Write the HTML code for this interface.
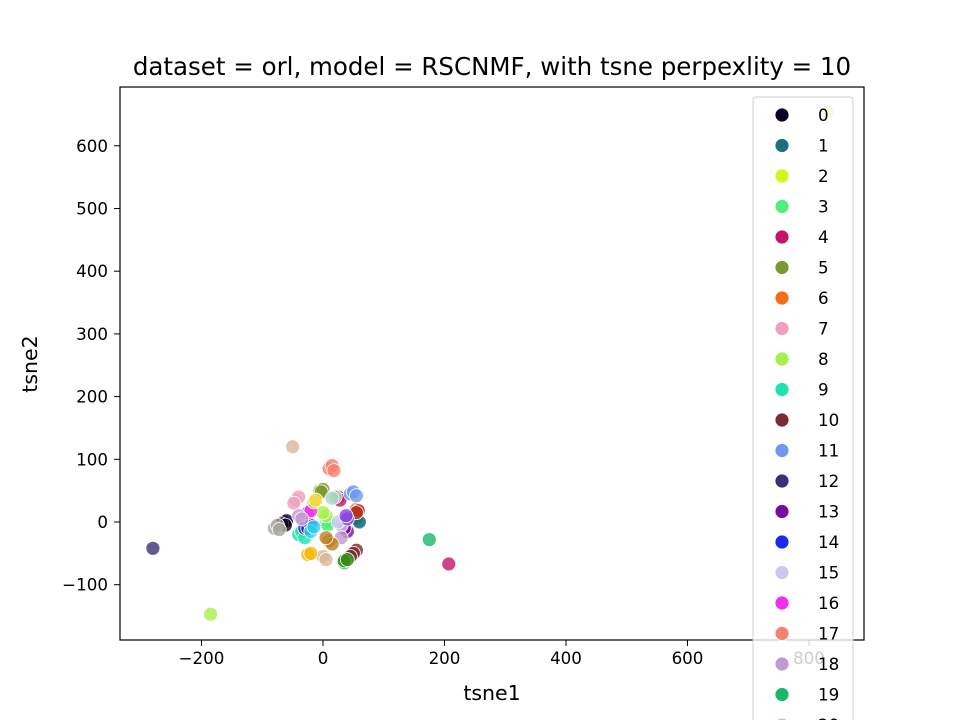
<!DOCTYPE html>
<html><head><meta charset="utf-8"><style>
html,body{margin:0;padding:0;background:#fff;width:960px;height:720px;overflow:hidden;}
svg{display:block;font-family:"DejaVu Sans","Liberation Sans",sans-serif;}
</style></head><body>
<svg id="c" width="960" height="720" viewBox="0 0 960 720" xmlns="http://www.w3.org/2000/svg">
<rect width="960" height="720" fill="#fff"/>
<text x="492" y="75" font-size="24.5" text-anchor="middle">dataset = orl, model = RSCNMF, with tsne perpexlity = 10</text>
<g id="pts"></g>
<rect x="120" y="87" width="744" height="553" fill="none" stroke="#000" stroke-width="1.2"/>
<g id="axes"></g>
<text x="492" y="700" font-size="20.5" text-anchor="middle">tsne1</text>
<text transform="translate(37,364) rotate(-90)" font-size="20.5" text-anchor="middle">tsne2</text>
<g id="legend"></g>
</svg>
<script>
const xTicks=[-200,0,200,400,600,800];
const yTicks=[-100,0,100,200,300,400,500,600];
const classColors=["#0b0021","#1b7080","#d6f516","#4ff07a","#c5146a","#7a9a30","#f86c13","#eea0c0","#a6f04b","#1ce4b0","#7a2a30","#6e9aee","#3a2f78","#7a0aa0","#1a28f0","#ccc8f0","#f02ef0","#f88070","#c09ad0","#18b868","#a8d8c0","#dbb896","#a8a8a0","#f0d840","#30d0f0","#f8b800","#c08020","#3a8a10","#b03020","#8a40e0"];
const legendLabels=["0","1","2","3","4","5","6","7","8","9","10","11","12","13","14","15","16","17","18","19","20"];
const classPoints=[
[[-65,0],[-60,2],[-68,-3],[-62,-5]],
[[58,2],[55,5],[60,0]],
[[830,654],[-15,28]],
[[5,-3],[10,0],[8,-5]],
[[207,-67],[25,40],[28,35]],
[[-5,50],[0,52],[-3,48]],
[[55,20],[58,18]],
[[-45,35],[-40,40],[-48,30]],
[[-185,-147],[5,10],[0,15]],
[[-40,-20],[-35,-15],[-30,-25]],
[[55,-45],[50,-50],[45,-55]],
[[45,45],[50,48],[55,42]],
[[-280,-42],[-30,-10]],
[[40,-15],[35,-10]],
[[-25,-10],[-20,-5]],
[[30,-5],[25,0]],
[[-25,15],[-20,18]],
[[10,85],[15,90],[18,82]],
[[-40,10],[-35,5],[30,-25]],
[[175,-28],[40,-60],[35,-65]],
[[20,40],[15,38]],
[[-50,120],[0,-55],[5,-60]],
[[-80,-10],[-75,-5],[-72,-12]],
[[-15,32],[-12,35]],
[[-20,-15],[-15,-8]],
[[-25,-52],[-20,-50]],
[[10,-30],[15,-35],[5,-25]],
[[35,-62],[40,-60]],
[[58,18],[55,15]],
[[40,5],[38,10]]
];
const NS="http://www.w3.org/2000/svg";
const X=v=>323+v*0.6075, Y=v=>522-v*0.627;
function mk(t,a,p){const e=document.createElementNS(NS,t);for(const k in a)e.setAttribute(k,a[k]);p.appendChild(e);return e;}
const pts=document.getElementById('pts');
classPoints.forEach((arr,ci)=>{arr.forEach(p=>{
 const c=mk('circle',{cx:X(p[0]),cy:Y(p[1]),r:7,fill:classColors[ci],'fill-opacity':0.8,stroke:'#fff','stroke-width':0.8},pts);
 
 
});});
const ax=document.getElementById('axes');
xTicks.forEach(t=>{
 const l=mk('line',{x1:X(t),x2:X(t),y1:640,y2:646,stroke:'#000','stroke-width':1},ax);
 
 
 const s=mk('text',{x:X(t),y:664,'font-size':16.7,'text-anchor':'middle'},ax);
 s.textContent=t<0?'\u2212'+(-t):t;
 
 
});
yTicks.forEach(t=>{
 const l=mk('line',{x1:114,x2:120,y1:Y(t),y2:Y(t),stroke:'#000','stroke-width':1},ax);
 
 
 const s=mk('text',{x:108,y:Y(t)+6,'font-size':16.7,'text-anchor':'end'},ax);
 s.textContent=t<0?'\u2212'+(-t):t;
 
 
});
const lg=document.getElementById('legend');
const box=mk('rect',{x:753,y:97,width:100,height:630,rx:3,fill:'#fff','fill-opacity':0.8,stroke:'#ccc','stroke-width':1},lg);


legendLabels.forEach((lab,i)=>{
 const y=115+i*30.5;
 const g=mk('g',{},lg);
 
 
 mk('circle',{cx:782,cy:y,r:7,fill:classColors[i],stroke:'#fff','stroke-width':0.8},g);
 const s=mk('text',{x:818,y:y+6,'font-size':16.7},g);
 s.textContent=lab;
});
</script>
</body></html>
